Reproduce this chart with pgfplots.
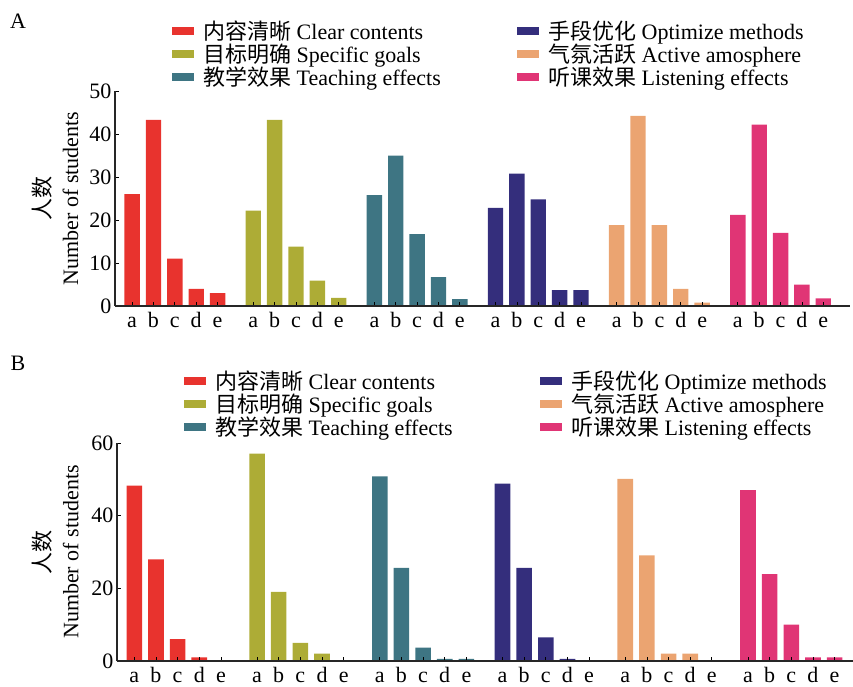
\documentclass[border=0pt]{standalone}
\usepackage{pgfplots}
\pgfplotsset{compat=1.18}
\usepackage{fontspec}
\setmainfont{Liberation Serif}
\newfontfamily\cjk{Noto Sans CJK SC}

\definecolor{cred}{HTML}{E8332E}
\definecolor{colive}{HTML}{ADAC36}
\definecolor{cteal}{HTML}{3E7583}
\definecolor{cnavy}{HTML}{342E7C}
\definecolor{corange}{HTML}{EBA471}
\definecolor{cpink}{HTML}{E03575}

\newlength\legw
\newcommand\lent[2]{\makebox[\legw][l]{{\cjk #1} #2}}

\pgfplotsset{
  panel/.style={
    scale only axis,
    axis x line=bottom, axis y line=left,
    axis line style={-, line width=1.2pt, black!85},
    axis on top,
    ybar, bar width=0.72, bar shift=0pt,
    xmin=-0.8, ymin=0,
    xtick={0,1,2,3,4,5.67,6.67,7.67,8.67,9.67,11.34,12.34,13.34,14.34,15.34,17.01,18.01,19.01,20.01,21.01,22.68,23.68,24.68,25.68,26.68,28.35,29.35,30.35,31.35,32.35},
    xticklabels={a,b,c,d,e,a,b,c,d,e,a,b,c,d,e,a,b,c,d,e,a,b,c,d,e,a,b,c,d,e},
    tick align=inside,
    major tick length=4pt,
    tick style={black, line width=0.8pt},
    ticklabel style={font=\fontsize{22}{26}\selectfont},
    xticklabel style={text height=16pt, text depth=5pt, anchor=north, yshift=-2pt},
    /pgf/number format/assume math mode=true,
    ylabel={{\cjk 人数}\\Number of students},
    ylabel style={font=\fontsize{22}{28}\selectfont, align=center, anchor=south},
    legend columns=2,
    legend cell align=left,
    legend image code/.code={\fill[#1] (0pt,-4pt) rectangle (22pt,4pt);},
    legend style={draw=none, fill=none, inner sep=0pt, anchor=north west,
      font=\fontsize{22}{24}\selectfont, nodes={inner sep=0pt},
      column sep=9pt, row sep=2.5pt},
  }
}

\begin{document}
\begin{tikzpicture}
\useasboundingbox (0,0) rectangle (853pt,686pt);
\node[font=\fontsize{22}{26}\selectfont] at (18pt,665pt) {A};
\node[font=\fontsize{22}{26}\selectfont] at (18pt,323pt) {B};

% panel A
\setlength\legw{305pt}
\begin{axis}[panel,
  at={(115pt,380pt)}, anchor=south west,
  width=735pt, height=215pt,
  xmax=33.6, ymax=50, ytick={0,10,20,30,40,50},
  ylabel style={at={(axis description cs:-0.045,0.5)}},
  legend style={at={(axis description cs:0.0776,1.325)}},
]
\addplot[fill=cred, draw=none] coordinates {(0,26) (1,43.3) (2,11) (3,4) (4,3)};
\addlegendentry{\lent{内容清晰}{Clear contents}}
\addplot[fill=cnavy, draw=none] coordinates {(17.01,22.8) (18.01,30.8) (19.01,24.8) (20.01,3.7) (21.01,3.7)};
\addlegendentry{\lent{手段优化}{Optimize methods}}
\addplot[fill=colive, draw=none] coordinates {(5.67,22.2) (6.67,43.3) (7.67,13.8) (8.67,5.9) (9.67,1.9)};
\addlegendentry{\lent{目标明确}{Specific goals}}
\addplot[fill=corange, draw=none] coordinates {(22.68,18.8) (23.68,44.2) (24.68,18.8) (25.68,4) (26.68,0.8)};
\addlegendentry{\lent{气氛活跃}{Active amosphere}}
\addplot[fill=cteal, draw=none] coordinates {(11.34,25.8) (12.34,35) (13.34,16.7) (14.34,6.7) (15.34,1.6)};
\addlegendentry{\lent{教学效果}{Teaching effects}}
\addplot[fill=cpink, draw=none] coordinates {(28.35,21.2) (29.35,42.2) (30.35,17) (31.35,5) (32.35,1.8)};
\addlegendentry{\lent{听课效果}{Listening effects}}
\end{axis}

% panel B
\setlength\legw{316pt}
\begin{axis}[panel,
  at={(117pt,25pt)}, anchor=south west,
  width=736pt, height=218pt,
  xmax=33.2, ymax=60, ytick={0,20,40,60},
  ylabel style={at={(axis description cs:-0.0475,0.5)}},
  legend style={at={(axis description cs:0.091,1.33)}},
]
\addplot[fill=cred, draw=none] coordinates {(0,48.3) (1,28) (2,6) (3,1) (4,0)};
\addlegendentry{\lent{内容清晰}{Clear contents}}
\addplot[fill=cnavy, draw=none] coordinates {(17.01,48.8) (18.01,25.6) (19.01,6.5) (20.01,0.6) (21.01,0)};
\addlegendentry{\lent{手段优化}{Optimize methods}}
\addplot[fill=colive, draw=none] coordinates {(5.67,57.1) (6.67,19) (7.67,5) (8.67,2) (9.67,0)};
\addlegendentry{\lent{目标明确}{Specific goals}}
\addplot[fill=corange, draw=none] coordinates {(22.68,50.1) (23.68,29.1) (24.68,2) (25.68,2) (26.68,0)};
\addlegendentry{\lent{气氛活跃}{Active amosphere}}
\addplot[fill=cteal, draw=none] coordinates {(11.34,50.8) (12.34,25.6) (13.34,3.7) (14.34,0.6) (15.34,0.6)};
\addlegendentry{\lent{教学效果}{Teaching effects}}
\addplot[fill=cpink, draw=none] coordinates {(28.35,47) (29.35,23.9) (30.35,10) (31.35,1) (32.35,1)};
\addlegendentry{\lent{听课效果}{Listening effects}}
\end{axis}
\end{tikzpicture}
\end{document}
